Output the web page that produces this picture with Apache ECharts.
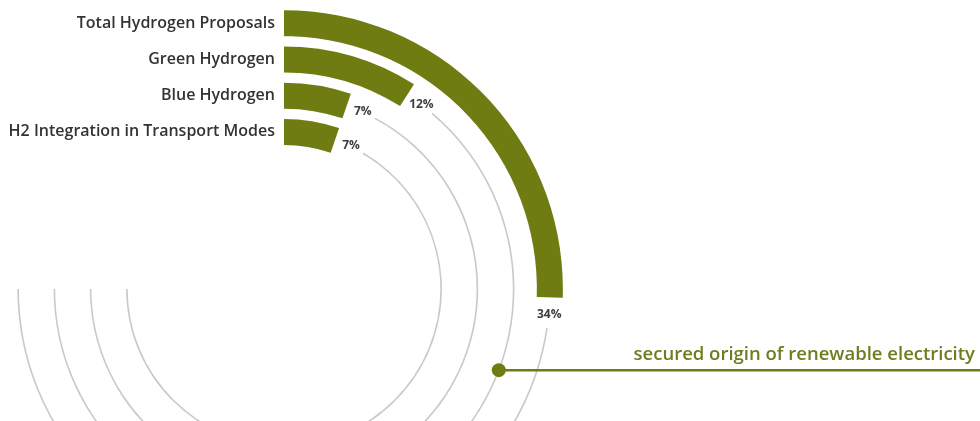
<!DOCTYPE html>
<html>
<head>
<meta charset="utf-8">
<script src="https://cdn.jsdelivr.net/npm/echarts@6/dist/echarts.min.js"></script>
<style>
  html, body { margin: 0; padding: 0; background: #ffffff; }
  #chart { width: 980px; height: 421px; }
</style>
</head>
<body>
<div id="chart"></div>
<script>
// ---- data ----
const categories = ['H2 Integration in Transport Modes', 'Blue Hydrogen', 'Green Hydrogen', 'Total Hydrogen Proposals'];
const shares = [7, 7, 12, 34];          // percent
const scaleMax = 100;                   // full track = 100 %
const annotationText = 'secured origin of renewable electricity';
const annotationCategory = 'Green Hydrogen';
const annotationValue = 41;             // position along the track (percent)

// ---- layout / style ----
const GREEN = '#6f7c12';
const TEXT_GREEN = '#6d7e1f';
const GREY = '#c9c9c9';
const center = [284, 289];
const rInner = 139, rOuter = 284;
const sweep = 270;                      // degrees covered by scaleMax
const angleMax = scaleMax * 360 / sweep;
const band = (rOuter - rInner) / categories.length;
const gapPx = 31;                       // visual gap (arc length) between bar end and track

const trackStart = shares.map((v, i) => {
  const r = rInner + band * (i + 0.5);
  const gapDeg = gapPx / r * 180 / Math.PI;
  return v + gapDeg * scaleMax / sweep;
});

const chart = echarts.init(document.getElementById('chart'), null, { renderer: 'canvas' });

const angleAxisBase = {
  type: 'value', min: 0, max: angleMax, startAngle: 90, clockwise: true,
  axisLine: { show: false }, axisTick: { show: false }, axisLabel: { show: false },
  splitLine: { show: false }
};

const option = {
  backgroundColor: '#ffffff',
  animation: false,
  polar: [
    { center: center, radius: [rInner, rOuter] },
    { center: center, radius: [rInner, rOuter] }
  ],
  angleAxis: [
    Object.assign({ polarIndex: 0 }, angleAxisBase),
    Object.assign({ polarIndex: 1 }, angleAxisBase)
  ],
  radiusAxis: [
    {
      polarIndex: 0, type: 'category', data: categories, z: 10,
      axisLine: { show: false }, axisTick: { show: false }, splitLine: { show: false },
      axisLabel: {
        show: true, interval: 0, hideOverlap: false, margin: 9, color: '#333333',
        fontFamily: 'Open Sans', fontSize: 16, fontWeight: 600
      }
    },
    {
      polarIndex: 1, type: 'category', data: categories,
      axisLine: { show: false }, axisTick: { show: false }, splitLine: { show: false },
      axisLabel: { show: false }
    }
  ],
  series: [
    {
      type: 'bar', coordinateSystem: 'polar', polarIndex: 1, stack: 'track',
      barWidth: 1.6, z: 1, silent: true,
      itemStyle: { color: 'rgba(0,0,0,0)' },
      data: trackStart
    },
    {
      type: 'bar', coordinateSystem: 'polar', polarIndex: 1, stack: 'track',
      barWidth: 1.6, z: 1, silent: true,
      itemStyle: { color: GREY },
      data: trackStart.map(s => scaleMax - s)
    },
    {
      type: 'bar', coordinateSystem: 'polar', polarIndex: 0,
      barWidth: 26, z: 3,
      itemStyle: { color: GREEN },
      label: {
        show: true, position: 'end', distance: 17, rotate: 0,
        align: 'center', verticalAlign: 'middle',
        formatter: '{c}%', color: '#3d3d3d',
        fontFamily: 'Open Sans', fontSize: 12, fontWeight: 'bold'
      },
      data: shares
    },
    {
      type: 'scatter', coordinateSystem: 'polar', polarIndex: 1, z: 5,
      symbolSize: 14, itemStyle: { color: GREEN, opacity: 1 },
      data: [[annotationCategory, annotationValue]]
    }
  ]
};
chart.setOption(option);

const p = chart.convertToPixel({ seriesIndex: 3 }, [annotationCategory, annotationValue]);
if (p) {
  chart.setOption({
    graphic: [
      {
        type: 'line', z: 4,
        shape: { x1: p[0], y1: p[1], x2: 980, y2: p[1] },
        style: { stroke: GREEN, lineWidth: 2.5 }
      },
      {
        type: 'text', z: 4,
        x: 975, y: p[1] - 6,
        style: {
          text: annotationText, fill: TEXT_GREEN,
          font: '600 18.5px "Open Sans"', align: 'right', verticalAlign: 'bottom'
        }
      }
    ]
  });
}
</script>
</body>
</html>
